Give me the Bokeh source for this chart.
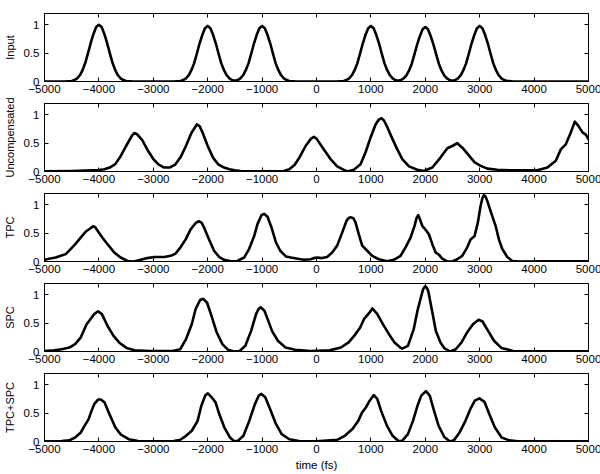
from bokeh.plotting import figure
from bokeh.layouts import column
from bokeh.models import Range1d, FixedTicker, LinearAxis
from bokeh.embed import file_html
from bokeh.resources import INLINE

# ---------------- data ----------------
x_ticks = [-5000, -4000, -3000, -2000, -1000, 0, 1000, 2000, 3000, 4000, 5000]
x_tick_labels = ["\u22125000", "\u22124000", "\u22123000", "\u22122000", "\u22121000",
                 "0", "1000", "2000", "3000", "4000", "5000"]
y_ticks = [0, 0.5, 1]
y_tick_labels = ["0", "0.5", "1"]
panel_labels = ["Input", "Uncompensated", "TPC", "SPC", "TPC+SPC"]
x_label = "time (fs)"

t_input = [-5000, -4700, -4600, -4500, -4450, -4400, -4350, -4300, -4250, -4200, -4150, -4100, -4050,
           -4000, -3950, -3900, -3850, -3800, -3750, -3700, -3650, -3600, -3550, -3500, -3400, -3300,
           -2700, -2600, -2500, -2450, -2400, -2350, -2300, -2250, -2200, -2150, -2100, -2050,
           -2000, -1950, -1900, -1850, -1800, -1750, -1700, -1650, -1600, -1550, -1500,
           -1450, -1400, -1350, -1300, -1250, -1200, -1150, -1100, -1050,
           -1000, -950, -900, -850, -800, -750, -700, -650, -600, -550, -500, -400, -300,
           300, 400, 500, 550, 600, 650, 700, 750, 800, 850, 900, 950,
           1000, 1050, 1100, 1150, 1200, 1250, 1300, 1350, 1400, 1450, 1500,
           1550, 1600, 1650, 1700, 1750, 1800, 1850, 1900, 1950,
           2000, 2050, 2100, 2150, 2200, 2250, 2300, 2350, 2400, 2450, 2500,
           2550, 2600, 2650, 2700, 2750, 2800, 2850, 2900, 2950,
           3000, 3050, 3100, 3150, 3200, 3250, 3300, 3350, 3400, 3450, 3500, 3600, 3700, 5000]
v_input = [0, 0, 0.003, 0.01, 0.025, 0.055, 0.11, 0.2, 0.33, 0.5, 0.68, 0.84, 0.96,
           1.0, 0.96, 0.84, 0.68, 0.5, 0.33, 0.2, 0.11, 0.055, 0.025, 0.01, 0.003, 0,
           0, 0.003, 0.01, 0.025, 0.054, 0.11, 0.2, 0.32, 0.49, 0.67, 0.82, 0.94,
           0.98, 0.94, 0.82, 0.67, 0.49, 0.32, 0.2, 0.11, 0.054, 0.025, 0.015,
           0.025, 0.054, 0.11, 0.2, 0.32, 0.49, 0.67, 0.82, 0.94,
           0.98, 0.94, 0.82, 0.67, 0.49, 0.32, 0.2, 0.11, 0.054, 0.025, 0.01, 0.003, 0,
           0, 0.003, 0.01, 0.025, 0.054, 0.11, 0.2, 0.32, 0.49, 0.67, 0.82, 0.94,
           0.98, 0.94, 0.82, 0.67, 0.49, 0.32, 0.2, 0.11, 0.054, 0.025, 0.015,
           0.025, 0.053, 0.105, 0.19, 0.31, 0.48, 0.65, 0.8, 0.92,
           0.96, 0.92, 0.8, 0.65, 0.48, 0.31, 0.19, 0.105, 0.053, 0.025, 0.015,
           0.025, 0.054, 0.11, 0.2, 0.32, 0.49, 0.67, 0.82, 0.94,
           0.98, 0.94, 0.82, 0.67, 0.49, 0.32, 0.2, 0.11, 0.054, 0.025, 0.01, 0.003, 0, 0]

t_uncomp = [-5000, -4500, -4000, -3900, -3800, -3700, -3600, -3500, -3400, -3350, -3300, -3200,
            -3100, -3000, -2900, -2800, -2700, -2600, -2500, -2400, -2300, -2200, -2150, -2100,
            -2000, -1900, -1800, -1700, -1600, -1500, -1400, -1200, -800, -600, -500, -400,
            -300, -200, -100, -50, 0, 135, 258, 380, 503, 565, 687, 810, 902, 994, 1086, 1140, 1196,
            1240, 1288, 1393, 1485, 1577, 1700, 1853, 1975, 2129, 2282, 2405, 2497, 2589, 2681, 2804,
            2908, 3018, 3141, 3325, 3570, 4061, 4245, 4399, 4491, 4583, 4675, 4748, 4810, 4890,
            4951, 5000]
v_uncomp = [0.005, 0.01, 0.025, 0.04, 0.07, 0.13, 0.27, 0.45, 0.62, 0.68, 0.66, 0.55,
            0.37, 0.22, 0.12, 0.07, 0.07, 0.12, 0.25, 0.45, 0.68, 0.83, 0.80, 0.70,
            0.45, 0.24, 0.12, 0.07, 0.04, 0.02, 0.01, 0.005, 0.005, 0.01, 0.04, 0.12,
            0.27, 0.45, 0.58, 0.61, 0.58, 0.39, 0.22, 0.09, 0.03, 0.0, 0.03, 0.13, 0.34, 0.6, 0.83, 0.91, 0.94,
            0.90, 0.81, 0.58, 0.39, 0.22, 0.09, 0.03, 0.01, 0.07, 0.25, 0.41, 0.45, 0.50, 0.42, 0.28,
            0.16, 0.10, 0.05, 0.03, 0.02, 0.02, 0.07, 0.19, 0.39, 0.48, 0.69, 0.88, 0.81, 0.69,
            0.65, 0.57]

t_tpc = [-5000, -4917, -4795, -4700, -4610, -4520, -4430, -4335, -4240, -4180, -4108, -4070, -4030,
         -3935, -3845, -3720, -3600, -3475, -3355, -3230, -3110, -2985, -2800, -2680, -2590,
         -2500, -2405, -2312, -2220, -2160, -2110, -2067, -1975, -1883, -1790, -1700, -1576, -1455,
         -1330, -1240, -1145, -1085, -1010, -960, -900, -827, -747, -667, -563, -470, -348,
         -230, -105, -45, 12, 104, 196, 288, 380, 472, 552, 595, 638, 680, 717, 778, 840, 932, 1024,
         1146, 1300, 1422, 1545, 1637, 1729, 1802, 1840, 1870, 1900, 1944, 2005, 2066, 2128, 2189, 2250,
         2311, 2403, 2495, 2587, 2679, 2771, 2832, 2906, 2967, 3016, 3050, 3077, 3105, 3139, 3200, 3292,
         3353, 3415, 3507, 3600, 3753, 4200, 5000]
v_tpc = [0.03, 0.05, 0.07, 0.10, 0.13, 0.22, 0.31, 0.42, 0.53, 0.57, 0.62, 0.61, 0.55,
         0.42, 0.31, 0.16, 0.07, 0.01, 0.0, 0.03, 0.06, 0.08, 0.08, 0.10, 0.14,
         0.25, 0.39, 0.57, 0.68, 0.71, 0.68, 0.60, 0.39, 0.19, 0.08, 0.03, 0.005, 0.01,
         0.07, 0.22, 0.45, 0.66, 0.82, 0.84, 0.79, 0.60, 0.34, 0.19, 0.09, 0.07, 0.05,
         0.03, 0.04, 0.06, 0.07, 0.06, 0.08, 0.16, 0.28, 0.51, 0.72, 0.77, 0.78, 0.76, 0.69, 0.48, 0.28, 0.19, 0.10,
         0.04, 0.005, 0.03, 0.10, 0.25, 0.42, 0.63, 0.77, 0.82, 0.75, 0.63, 0.56, 0.48, 0.31, 0.16, 0.12,
         0.05, 0.0, 0.0, 0.04, 0.10, 0.25, 0.39, 0.45, 0.69, 0.98, 1.12, 1.17, 1.15, 1.07, 0.89, 0.63,
         0.39, 0.22, 0.08, 0.01, 0.0, 0.005, 0.005]

t_spc = [-5000, -4824, -4684, -4543, -4437, -4332, -4226, -4156, -4086, -4016, -3945, -3840,
         -3734, -3629, -3488, -3347, -3066, -2644, -2504, -2398, -2293, -2222, -2138, -2082,
         -2011, -1941, -1836, -1730, -1625, -1519, -1414, -1308, -1203, -1111, -1065, -1027, -957,
         -886, -816, -710, -570, -394, -113, 239, 450, 590, 696, 801, 872, 977, 1026, 1118,
         1223, 1329, 1434, 1540, 1575, 1680, 1786, 1856, 1926, 1960, 1997, 2025, 2053, 2124, 2194, 2279,
         2349, 2455, 2560, 2666, 2771, 2876, 2981, 3052, 3157, 3263, 3403, 3614, 4000, 5000]
v_spc = [0.01, 0.02, 0.04, 0.07, 0.13, 0.25, 0.48, 0.57, 0.66, 0.71, 0.66, 0.45,
         0.28, 0.16, 0.06, 0.02, 0.01, 0.01, 0.04, 0.22, 0.48, 0.75, 0.91, 0.93,
         0.86, 0.66, 0.34, 0.13, 0.03, 0.0, 0.01, 0.10, 0.36, 0.66, 0.75, 0.78, 0.72,
         0.54, 0.36, 0.19, 0.07, 0.03, 0.01, 0.02, 0.07, 0.16, 0.28, 0.42, 0.57, 0.69, 0.76, 0.66,
         0.48, 0.31, 0.16, 0.07, 0.05, 0.10, 0.39, 0.72, 0.98, 1.10, 1.15, 1.13, 1.07, 0.72, 0.36, 0.16,
         0.06, 0.0, 0.04, 0.16, 0.34, 0.48, 0.56, 0.53, 0.36, 0.19, 0.06, 0.01, 0.005, 0.005]

t_both = [-5000, -4684, -4543, -4437, -4332, -4262, -4191, -4135, -4086, -4016, -3966, -3896,
          -3805, -3699, -3594, -3453, -3277, -2644, -2504, -2398, -2293, -2187, -2117, -2046,
          -1997, -1927, -1856, -1786, -1695, -1589, -1519, -1449, -1343, -1238, -1132, -1062,
          -1013, -942, -851, -746, -640, -500, -324, 0, 379, 520, 661, 766, 836, 907, 977,
          1055, 1118, 1188, 1294, 1399, 1505, 1575, 1680, 1772, 1856, 1926, 2011, 2082, 2152,
          2243, 2349, 2455, 2525, 2630, 2736, 2827, 2911, 2995, 3087, 3178, 3277, 3403, 3544,
          3700, 5000]
v_both = [0.005, 0.01, 0.02, 0.07, 0.16, 0.28, 0.39, 0.54, 0.66, 0.74, 0.74, 0.69,
          0.48, 0.25, 0.12, 0.04, 0.01, 0.005, 0.03, 0.10, 0.19, 0.36, 0.63, 0.81,
          0.85, 0.78, 0.69, 0.48, 0.25, 0.07, 0.01, 0.01, 0.10, 0.36, 0.66, 0.81,
          0.84, 0.78, 0.57, 0.31, 0.13, 0.04, 0.01, 0.005, 0.03, 0.10, 0.22, 0.36, 0.51, 0.60, 0.72,
          0.82, 0.75, 0.54, 0.28, 0.10, 0.01, 0.01, 0.13, 0.36, 0.63, 0.81, 0.89, 0.81, 0.57,
          0.28, 0.08, 0.0, 0.02, 0.16, 0.36, 0.57, 0.72, 0.76, 0.70, 0.48, 0.25, 0.07, 0.02,
          0.005, 0.005]

series = [(t_input, v_input), (t_uncomp, v_uncomp), (t_tpc, v_tpc), (t_spc, v_spc), (t_both, v_both)]

# ---------------- styling ----------------
FONT = "Liberation Sans"
FS = "11px"
FS_TICK = "11.5px"
xo = dict(zip(x_ticks, x_tick_labels))
yo = dict(zip(y_ticks, y_tick_labels))

figs = []
n = len(series)
for i, ((t, v), lab) in enumerate(zip(series, panel_labels)):
    top = 13 if i == 0 else 6
    bottom = 33 if i == n - 1 else 16
    p = figure(frame_width=544, frame_height=68, output_backend="svg", toolbar_location=None,
               x_range=Range1d(-5000, 5000), y_range=Range1d(0, 1.2),
               min_border_left=40, min_border_right=16, min_border_top=top, min_border_bottom=bottom,
               background_fill_color="white", border_fill_color="white")
    p.grid.visible = False
    p.outline_line_color = "black"
    p.outline_line_width = 1
    p.line(t, v, line_color="black", line_width=2.6, line_join="round", line_cap="round")

    xa = p.xaxis[0]
    xa.ticker = FixedTicker(ticks=x_ticks)
    xa.major_label_overrides = xo
    xa.minor_tick_line_color = None
    xa.major_tick_in = 4
    xa.major_tick_out = 0
    xa.major_tick_line_color = "black"
    xa.major_label_standoff = 3
    xa.major_label_text_font = FONT
    xa.major_label_text_font_size = FS_TICK
    xa.major_label_text_color = "black"
    xa.axis_line_color = "black"
    if i == n - 1:
        xa.axis_label = x_label
        xa.axis_label_text_font = FONT
        xa.axis_label_text_font_size = FS_TICK
        xa.axis_label_text_font_style = "normal"
        xa.axis_label_text_color = "black"
        xa.axis_label_standoff = 3

    ya = p.yaxis[0]
    ya.ticker = FixedTicker(ticks=y_ticks)
    ya.major_label_overrides = yo
    ya.minor_tick_line_color = None
    ya.major_tick_in = 4
    ya.major_tick_out = 0
    ya.major_tick_line_color = "black"
    ya.major_label_standoff = 5
    ya.major_label_text_font = FONT
    ya.major_label_text_font_size = FS_TICK
    ya.major_label_text_color = "black"
    ya.axis_line_color = "black"
    ya.axis_label = lab
    ya.axis_label_text_font = FONT
    ya.axis_label_text_font_size = FS
    ya.axis_label_text_font_style = "normal"
    ya.axis_label_text_color = "black"
    ya.axis_label_standoff = 5

    for loc, tk in (("above", x_ticks), ("right", y_ticks)):
        ax = LinearAxis(ticker=FixedTicker(ticks=tk), major_label_text_font_size="0px",
                        major_label_standoff=0, major_tick_in=4, major_tick_out=0,
                        major_tick_line_color="black",
                        minor_tick_line_color=None, axis_line_color=None)
        ax.major_label_overrides = {k: "" for k in tk}
        p.add_layout(ax, loc)
    figs.append(p)

layout = column(*figs, spacing=0)
open("out.html", "w").write(file_html(layout, INLINE))
